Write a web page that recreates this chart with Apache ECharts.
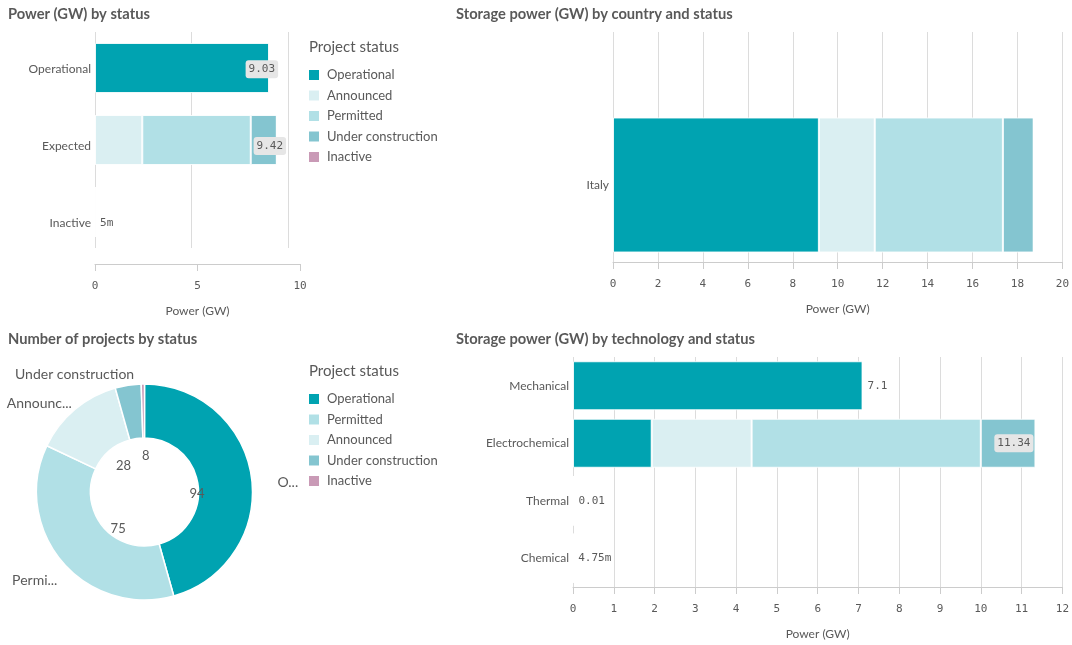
<!DOCTYPE html>
<html>
<head>
<meta charset="utf-8">
<script src="https://cdn.jsdelivr.net/npm/echarts@6/dist/echarts.min.js"></script>
<style>
  html, body { margin: 0; padding: 0; background: #fff; }
  #chart { width: 1072px; height: 645px; }
</style>
</head>
<body>
<div id="chart"></div>
<script>
// ---------- data ----------
const statusNames = ['Operational', 'Announced', 'Permitted', 'Under construction', 'Inactive'];
const statusColors = ['#00a3b1', '#daeff2', '#b1e0e6', '#84c5d0', '#c99ab6'];

// Power (GW) by status
const statusCategories = ['Operational', 'Expected', 'Inactive'];
const statusOperational = [9.03, 0, 0];
const statusAnnounced = [0, 2.45, 0];
const statusPermitted = [0, 5.62, 0];
const statusUnderConstruction = [0, 1.35, 0];
const statusInactive = [0, 0, 0.005];
const statusAxisMax = 10;
const statusAxisStep = 5;

// Storage power (GW) by country and status
const countryCategories = ['Italy'];
const countryOperational = [9.03];
const countryAnnounced = [2.45];
const countryPermitted = [5.62];
const countryUnderConstruction = [1.35];
const countryInactive = [0.005];
const countryAxisMax = 20;
const countryAxisStep = 2;

// Number of projects by status
const donutNames = ['Operational', 'Permitted', 'Announced', 'Under construction', 'Inactive'];
const donutCounts = [94, 75, 28, 8, 1];
const donutOuterLabels = ['O...', 'Permi...', 'Announc...', 'Under construction', ''];

// Storage power (GW) by technology and status
const techCategories = ['Mechanical', 'Electrochemical', 'Thermal', 'Chemical'];
const techOperational = [7.1, 1.93, 0.01, 0];
const techAnnounced = [0, 2.45, 0, 0];
const techPermitted = [0, 5.62, 0, 0];
const techUnderConstruction = [0, 1.34, 0, 0];
const techInactive = [0, 0, 0, 0.00475];
const techAxisMax = 12;
const techAxisStep = 1;

// ---------- style ----------
const SANS = 'Lato, "Open Sans", sans-serif';
const MONO = '"DejaVu Sans Mono", monospace';
const TXT = '#595959';
const GRIDLINE = '#dcdcdc';
const AXISLINE = '#cccccc';
// label nudges for the donut's outer labels (layout only)
const donutOuterOffsets = [[11, 6], [9, 15], [10, -1], [16, -5], [0, 0]];

function fmt(v) {
  if (v < 0.01) return (+(v * 1000).toFixed(2)) + 'm';
  return String(+v.toFixed(2));
}
function colorOf(name) { return statusColors[statusNames.indexOf(name)]; }

function stackSeries(valuesList, xi, yi, barWidth) {
  return statusNames.map((name, k) => ({
    type: 'bar', name: name, stack: 'total' + xi,
    xAxisIndex: xi, yAxisIndex: yi, barWidth: barWidth,
    data: valuesList[k],
    itemStyle: { color: statusColors[k], borderColor: 'rgba(255,255,255,0.85)', borderWidth: 1 },
    emphasis: { disabled: true },
    silent: true
  }));
}
function totalSeries(valuesList, xi, yi, barWidth, axisMax) {
  const n = valuesList[0].length;
  const totals = [];
  for (let i = 0; i < n; i++) {
    let s = 0;
    valuesList.forEach(arr => { s += arr[i]; });
    totals.push(s);
  }
  return {
    type: 'bar', name: '__total' + xi, xAxisIndex: xi, yAxisIndex: yi,
    barWidth: barWidth, barGap: '-100%', z: 5, silent: true,
    itemStyle: { color: 'rgba(0,0,0,0)' },
    data: totals.map(t => {
      const boxed = t / axisMax > 0.85;
      return {
        value: t,
        label: boxed ? {
          show: true, position: 'insideRight', distance: 2,
          formatter: () => fmt(t),
          fontFamily: MONO, fontSize: 11, color: TXT,
          backgroundColor: '#e6e6e6', borderRadius: 3, padding: [4, 3, 3, 3]
        } : {
          show: true, position: 'right', distance: 5,
          formatter: () => fmt(t),
          fontFamily: MONO, fontSize: 11, color: TXT
        }
      };
    })
  };
}

function hiddenValueAxis(gi, max, step, split) {
  return {
    type: 'value', gridIndex: gi, min: 0, max: max, interval: step,
    axisLine: { show: false }, axisTick: { show: false }, axisLabel: { show: false },
    splitLine: { show: split, lineStyle: { color: GRIDLINE, width: 1 } }
  };
}
function shownValueAxis(gi, max, step, split, offset) {
  return {
    type: 'value', gridIndex: gi, min: 0, max: max, interval: step, offset: offset || 0,
    name: 'Power (GW)', nameLocation: 'middle', nameGap: 41,
    nameTextStyle: { fontFamily: SANS, fontSize: 12, color: TXT },
    axisLine: { show: true, lineStyle: { color: AXISLINE, width: 1 } },
    axisTick: { show: true, length: 7, lineStyle: { color: AXISLINE } },
    axisLabel: { show: true, margin: 17, fontFamily: MONO, fontSize: 11, color: TXT },
    splitLine: { show: split, lineStyle: { color: GRIDLINE, width: 1 } }
  };
}
function catAxis(gi, data, showLabel) {
  return {
    type: 'category', gridIndex: gi, data: data, inverse: true,
    axisLine: { show: false }, axisTick: { show: false },
    axisLabel: { show: showLabel, margin: 4, fontFamily: SANS, fontSize: 12, color: TXT },
    splitLine: { show: false }
  };
}

const statusList = [statusOperational, statusAnnounced, statusPermitted, statusUnderConstruction, statusInactive];
const countryList = [countryOperational, countryAnnounced, countryPermitted, countryUnderConstruction, countryInactive];
const techList = [techOperational, techAnnounced, techPermitted, techUnderConstruction, techInactive];

const titleStyle = { fontFamily: SANS, fontSize: 14.7, fontWeight: 'bold', color: TXT, lineHeight: 16 };
const legendTitleStyle = { fontFamily: SANS, fontSize: 15, fontWeight: 'normal', color: TXT, lineHeight: 18 };

const legendCommon = {
  orient: 'vertical', left: 309, padding: 0,
  icon: 'rect', itemWidth: 10, itemHeight: 10, itemGap: 6.5,
  itemStyle: { borderWidth: 0 },
  textStyle: { fontFamily: SANS, fontSize: 13, color: TXT, lineHeight: 14, padding: [0, 0, 0, 3] },
  selectedMode: false
};

const option = {
  animation: false,
  backgroundColor: '#ffffff',
  title: [
    { text: 'Power (GW) by status', left: 8, top: 6, padding: 0, textStyle: titleStyle },
    { text: 'Storage power (GW) by country and status', left: 456, top: 6, padding: 0, textStyle: titleStyle },
    { text: 'Number of projects by status', left: 8, top: 331, padding: 0, textStyle: titleStyle },
    { text: 'Storage power (GW) by technology and status', left: 456, top: 331, padding: 0, textStyle: titleStyle },
    { text: 'Project status', left: 309, top: 38, padding: 0, textStyle: legendTitleStyle },
    { text: 'Project status', left: 309, top: 362, padding: 0, textStyle: legendTitleStyle }
  ],
  legend: [
    Object.assign({}, legendCommon, { top: 68, data: statusNames }),
    Object.assign({}, legendCommon, { top: 392, data: donutNames })
  ],
  grid: [
    { left: 95, top: 32, width: 193, height: 216 },   // 0 chart1 bars
    { left: 95, top: 31, width: 205, height: 230 },   // 1 chart1 axis + labels
    { left: 613, top: 32, width: 456, height: 230 },  // 2 chart2 axis + grid
    { left: 613, top: 108, width: 456, height: 154 }, // 3 chart2 bars
    { left: 573, top: 357, width: 496, height: 230 }  // 4 chart4
  ],
  xAxis: [
    hiddenValueAxis(0, statusAxisMax, statusAxisStep, true),
    shownValueAxis(1, statusAxisMax, statusAxisStep, false, 3),
    shownValueAxis(2, countryAxisMax, countryAxisStep, true, 0),
    hiddenValueAxis(3, countryAxisMax, countryAxisStep, false),
    shownValueAxis(4, techAxisMax, techAxisStep, true, 0)
  ],
  yAxis: [
    catAxis(0, statusCategories, false),
    catAxis(1, statusCategories, true),
    catAxis(2, countryCategories, false),
    catAxis(3, countryCategories, true),
    catAxis(4, techCategories, true)
  ],
  series: [].concat(
    stackSeries(statusList, 0, 0, 50),
    [totalSeries(statusList, 1, 1, 50, statusAxisMax)],
    stackSeries(countryList, 3, 3, 135),
    stackSeries(techList, 4, 4, 49),
    [totalSeries(techList, 4, 4, 49, techAxisMax)],
    [
      {
        type: 'pie', name: 'projects', center: [144.5, 492], radius: [54, 108],
        startAngle: 90, clockwise: true, silent: true, z: 2,
        avoidLabelOverlap: false,
        itemStyle: { borderColor: '#ffffff', borderWidth: 1.5 },
        label: {
          show: true, position: 'outside', fontFamily: SANS, fontSize: 14, color: TXT,
          formatter: p => donutOuterLabels[p.dataIndex]
        },
        labelLine: { show: false, length: 6, length2: 4 },
        emphasis: { disabled: true },
        data: donutNames.map((n, i) => ({
          name: n, value: donutCounts[i], itemStyle: { color: colorOf(n) },
          label: { offset: donutOuterOffsets[i] }
        }))
      },
      {
        type: 'pie', name: 'projectsInner', center: [144.5, 492], radius: [0, 84],
        startAngle: 90, clockwise: true, silent: true, z: 3,
        avoidLabelOverlap: false,
        itemStyle: { color: 'rgba(0,0,0,0)', borderWidth: 0 },
        label: { show: true, position: 'inside', offset: [8, 8], fontFamily: SANS, fontSize: 13, color: TXT, formatter: '{c}' },
        labelLine: { show: false },
        emphasis: { disabled: true },
        data: donutNames.map((n, i) => ({
          name: n + ' ', value: donutCounts[i],
          label: { show: donutCounts[i] > 2 }
        }))
      }
    ]
  )
};

const chart = echarts.init(document.getElementById('chart'), null, { renderer: 'canvas' });
chart.setOption(option);
</script>
</body>
</html>
